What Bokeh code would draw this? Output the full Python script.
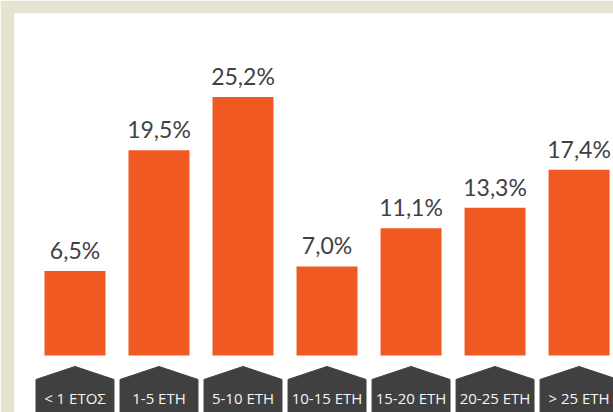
import numpy as np
from bokeh.plotting import figure
from bokeh.models import Range1d, ColumnDataSource
from bokeh.core.properties import value
from bokeh.embed import file_html
from bokeh.resources import INLINE

# ---- data ----
categories = ["< 1 ΕΤΟΣ", "1-5 ΕΤΗ", "5-10 ΕΤΗ", "10-15 ΕΤΗ", "15-20 ΕΤΗ", "20-25 ΕΤΗ", "> 25 ΕΤΗ"]
values = [6.5, 19.5, 25.2, 7.0, 11.1, 13.3, 17.4]
labels = [f"{v:.1f}".replace(".", ",") + "%" for v in values]

# ---- style ----
BEIGE = "#E6E3D1"
ORANGE = "#F05A22"
DARK = "#404040"
BASE = -2.58          # baseline of bars (data units)
BAR_W = 0.726
TAB_HW = 0.464
TAB_PEAK = -3.76
TAB_SHOULDER = -5.16
TAB_BOTTOM = -9.5

idx = np.arange(len(categories))

p = figure(width=613, height=412, output_backend="svg", toolbar_location=None,
           x_range=Range1d(-0.72, 6.41), y_range=Range1d(-8.71, 34.19),
           x_axis_location=None, y_axis_location=None,
           min_border_left=14, min_border_top=13, min_border_right=0, min_border_bottom=0)
p.grid.visible = False
p.outline_line_color = None
p.background_fill_color = "white"
p.border_fill_color = BEIGE

src = ColumnDataSource(dict(x=idx, top=values, lab=labels, cat=categories))

p.vbar(x="x", top="top", bottom=BASE, width=BAR_W, source=src,
       fill_color=ORANGE, line_color=None)

p.text(x="x", y="top", text="lab", source=src, text_align="center",
       text_baseline="bottom", y_offset=-7, text_font=value("Lato"),
       text_font_size="23px", text_color="#414141")

xs = [[i - TAB_HW, i - TAB_HW, i, i + TAB_HW, i + TAB_HW] for i in idx]
ys = [[TAB_BOTTOM, TAB_SHOULDER, TAB_PEAK, TAB_SHOULDER, TAB_BOTTOM] for _ in idx]
p.patches(xs, ys, fill_color=DARK, line_color=DARK)

p.text(x="x", y=BASE, text="cat", source=src, text_align="center",
       text_baseline="alphabetic", y_offset=43, text_font=value("Open Sans"),
       text_font_size="15px", text_color="#F4F4F4")

open("out.html", "w").write(file_html(p, INLINE))
